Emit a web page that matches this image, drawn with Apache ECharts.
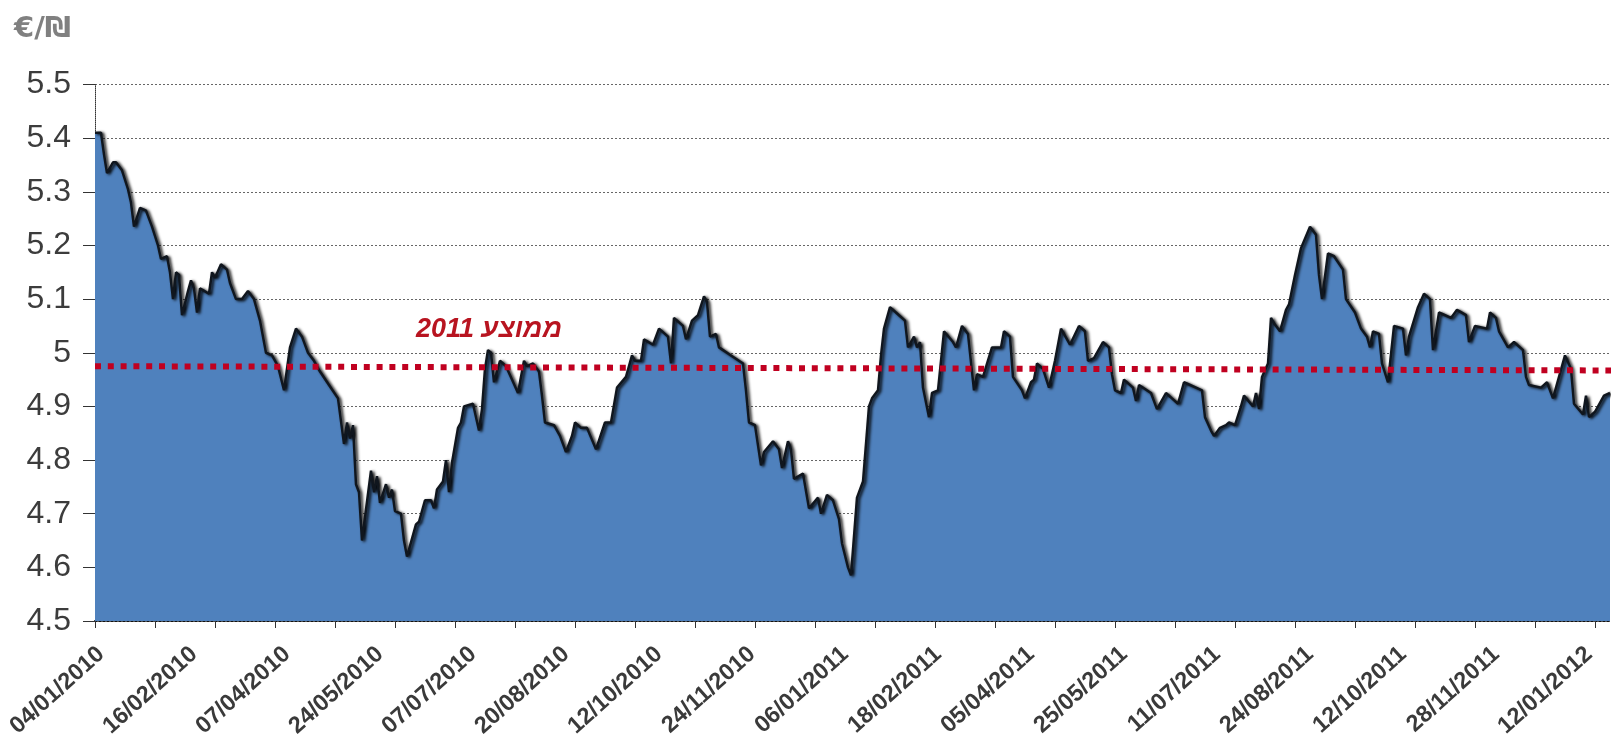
<!DOCTYPE html>
<html><head><meta charset="utf-8">
<style>html,body{margin:0;padding:0;background:#fff}#c{width:1611px;height:741px}</style>
<script src="https://cdn.jsdelivr.net/npm/echarts@6/dist/echarts.min.js"></script>
</head><body><div id="c"></div>
<script>
const unitLabel = "€/₪";
const averageLabel = "2011 ממוצע";
const tickLabels = ["04/01/2010","16/02/2010","07/04/2010","24/05/2010","07/07/2010","20/08/2010","12/10/2010","24/11/2010","06/01/2011","18/02/2011","05/04/2011","25/05/2011","11/07/2011","24/08/2011","12/10/2011","28/11/2011","12/01/2012"];
const tickLabelDays = [2,33,64,95,126,157,188,219,250,281,312,343,374,405,436,467,498];
const rateDays = [0,2,3,4,6,7,9,11,12,13,15,17,19,21,22,24,25,26,27,28,29,31,32,33,34,35,38,39,40,42,44,45,47,49,51,53,55,57,59,61,63,65,67,69,71,73,75,78,81,
83,84,85,86,87,88,89,92,93,94,95,97,98,99,100,102,103,104,107,108,110,112,113,114,116,117,118,119,121,122,123,126,128,129,130,131,132,133,135,137,139,141,143,144,146,148,149,150,153,155,157,159,160,162,164,
167,170,172,174,177,179,180,182,183,186,188,191,192,193,196,197,199,201,203,204,205,207,208,212,216,217,218,220,222,223,226,228,229,231,232,233,236,238,241,242,244,246,248,249,251,252,254,256,258,259,261,262,263,265,268,270,271,273,274,275,276,278,279,281,282,283,286,287,289,291,293,294,296,299,302,303,305,306,309,310,312,313,314,316,318,320,322,325,328,330,331,333,336,338,339,340,342,343,346,347,348,352,354,357,359,361,363,367,369,370,372,373,375,377,378,380,382,383,386,387,388,389,391,392,393,395,397,398,400,402,405,407,408,409,411,413,416,417,420,422,424,425,426,428,429,431,433,436,437,438,441,443,445,446,448,452,454,457,458,460,464,465,467,468,471,473,476,477,478,482,484,486,488,490,492,493,496,497,498,500,503,505];
const rateValues = [5.41,5.41,5.37,5.335,5.355,5.355,5.34,5.305,5.28,5.235,5.27,5.265,5.235,5.2,5.175,5.18,5.15,5.1,5.15,5.145,5.07,5.115,5.135,5.12,5.075,5.12,5.11,5.15,5.14,5.165,5.155,5.13,5.1,5.1,5.115,5.1,5.06,5,4.995,4.975,4.93,5.01,5.045,5.03,5,4.985,4.965,4.94,4.915,
4.83,4.87,4.84,4.865,4.755,4.74,4.65,4.78,4.74,4.77,4.72,4.755,4.73,4.745,4.705,4.7,4.65,4.62,4.68,4.685,4.725,4.725,4.71,4.745,4.76,4.8,4.74,4.795,4.86,4.87,4.9,4.905,4.855,4.895,4.97,5.005,5,4.945,4.985,4.975,4.95,4.925,4.985,4.975,4.98,4.965,4.92,4.87,4.865,4.845,4.815,4.845,4.87,4.86,4.86,
4.82,4.87,4.87,4.935,4.955,4.995,4.985,4.985,5.025,5.015,5.045,5.03,4.98,5.065,5.05,5.025,5.06,5.07,5.105,5.095,5.03,5.035,5.01,4.995,4.98,4.93,4.87,4.865,4.79,4.815,4.835,4.82,4.785,4.835,4.82,4.765,4.775,4.71,4.73,4.7,4.735,4.725,4.69,4.645,4.6,4.585,4.73,4.76,4.9,4.915,4.93,4.995,5.045,5.085,5.07,5.06,5.01,5.03,5.01,5.02,4.935,4.88,4.925,4.93,4.985,5.04,5.02,5.01,5.05,5.035,4.93,4.96,4.955,5.01,5.01,5.04,5.03,4.955,4.93,4.915,4.945,4.95,4.98,4.97,4.935,4.985,5.045,5.015,5.05,5.04,4.985,4.99,5.02,5.01,4.96,4.93,4.925,4.95,4.935,4.91,4.94,4.925,4.895,4.925,4.915,4.905,4.945,4.935,4.93,4.88,4.855,4.845,4.86,4.865,4.87,4.865,4.9,4.92,4.9,4.925,4.895,4.955,4.98,5.065,5.055,5.04,5.08,5.09,5.145,5.195,5.235,5.22,5.145,5.1,5.185,5.18,5.155,5.1,5.075,5.045,5.03,5.01,5.04,5.035,4.98,4.945,5.05,5.045,4.995,5.03,5.085,5.11,5.1,5.005,5.075,5.065,5.08,5.07,5.02,5.05,5.045,5.075,5.065,5.04,5.01,5.02,5.005,4.955,4.94,4.935,4.945,4.915,4.955,4.995,4.97,4.905,4.885,4.92,4.88,4.89,4.92,4.925];
const averageDays = [0,505.33];
const averageValues = [4.975,4.967];
const yMin=4.5, yMax=5.5, yStep=0.1, xMax=505.33, xTickStep=20;

const chart = echarts.init(document.getElementById('c'),null,{renderer:'canvas'});
chart.setOption({
  animation:false,
  backgroundColor:'#fff',
  grid:{left:95,right:0,top:84.5,height:536.5,containLabel:false},
  xAxis:{type:'value',min:0,max:xMax,interval:xTickStep,
    axisLine:{show:true,onZero:false,lineStyle:{color:'#111',type:'dotted',width:2}},
    axisTick:{show:true,length:7,lineStyle:{color:'#333',width:1}},
    splitLine:{show:false},
    axisLabel:{customValues:tickLabelDays,rotate:42,margin:30,fontFamily:'"Liberation Sans"',fontSize:23.5,fontWeight:'bold',color:'#3a3a3a',
      formatter:v=>tickLabels[tickLabelDays.indexOf(v)]||''}},
  yAxis:{type:'value',min:yMin,max:yMax,interval:yStep,
    axisLine:{show:true,onZero:false,lineStyle:{color:'#333',type:'dotted',width:1}},
    axisTick:{show:true,length:12,lineStyle:{color:'#333',width:1}},
    splitLine:{show:true,lineStyle:{color:'#666',type:[2,2],width:1}},
    axisLabel:{margin:24,fontFamily:'"Liberation Sans"',fontSize:32,color:'#3c3c3c',formatter:v=>String(+v.toFixed(1))}},
  graphic:[
    {type:'text',left:14,top:15,style:{text:unitLabel,fontFamily:'"DejaVu Sans"',fontWeight:'bold',fontSize:29,fill:'#808080'}},
    {type:'text',left:416,top:316,style:{text:averageLabel,fontFamily:'"Liberation Sans"',fontStyle:'italic',fontWeight:'bold',fontSize:27,fill:'#b81420'}}
  ],
  series:[
    {type:'line',showSymbol:false,symbol:'none',smooth:false,z:3,clip:true,
     data:rateDays.map((d,i)=>[d,rateValues[i]]),
     lineStyle:{color:'#10161e',width:2.5,shadowColor:'rgba(0,0,0,1)',shadowBlur:3,shadowOffsetX:2,shadowOffsetY:1},
     areaStyle:{color:'#4f81bd',opacity:1,origin:'start'}},
    {type:'line',showSymbol:false,symbol:'none',z:4,
     data:averageDays.map((d,i)=>[d,averageValues[i]]),
     lineStyle:{color:'#c00020',width:6,type:[6,6.8]}}
  ]
});
</script></body></html>
